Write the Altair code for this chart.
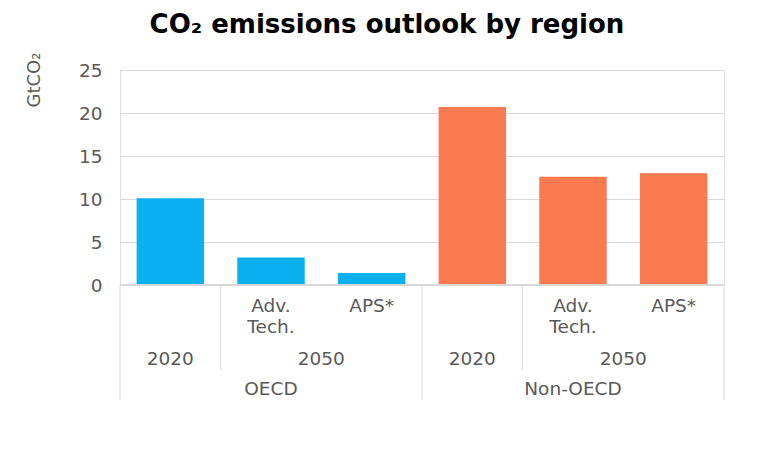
import altair as alt
import pandas as pd

regions = ["OECD", "OECD", "OECD", "Non-OECD", "Non-OECD", "Non-OECD"]
periods = ["2020", "2050", "2050", "2020", "2050", "2050"]
scenarios = ["", "Adv.\nTech.", "APS*", "", "Adv.\nTech.", "APS*"]
values = [10.1, 3.2, 1.4, 20.7, 12.6, 13.0]
colors = ["#0BB0F0", "#0BB0F0", "#0BB0F0", "#F97A50", "#F97A50", "#F97A50"]

TXT = "#595959"
FONT = "DejaVu Sans"
FS = 18.5

df = pd.DataFrame({"region": regions, "period": periods, "scenario": scenarios,
                   "value": values, "color": colors})
df["idx"] = range(len(df))
df["key"] = df["region"] + "|" + df["period"] + "|" + df["idx"].astype(str)
keys = list(df["key"])

# label tables derived from the category index
sub = df[df["scenario"] != ""].copy()
sub["pos"] = sub["idx"] + 0.5

per = df.groupby(["region", "period"], sort=False)["idx"].agg(["min", "max"]).reset_index()
per["pos"] = (per["min"] + per["max"] + 1) / 2

reg = df.groupby("region", sort=False)["idx"].agg(["min", "max"]).reset_index()
reg["pos"] = (reg["min"] + reg["max"] + 1) / 2

# separators
reg_b = sorted(set(list(reg["min"]) + list(reg["max"] + 1)))
per_b = sorted(set(per["min"]) - set(reg["min"]))
seps = pd.DataFrame({"b": reg_b + per_b,
                     "kind": ["region"] * len(reg_b) + ["period"] * len(per_b)})

n = len(df)
xq = alt.X("pos:Q", scale=alt.Scale(domain=[0, n], nice=False, zero=False), axis=None)

bars = alt.Chart(df).mark_bar().encode(
    x=alt.X("key:N", sort=keys, axis=None,
            scale=alt.Scale(paddingInner=0.33, paddingOuter=0.165)),
    y=alt.Y("value:Q", scale=alt.Scale(domain=[0, 25], nice=False),
            axis=alt.Axis(values=[0, 5, 10, 15, 20, 25], title="GtCO₂",
                          grid=True, gridColor="#D9D9D9", domain=False, ticks=False,
                          labelFont=FONT, labelFontSize=FS, labelColor=TXT, labelPadding=18,
                          titleFont=FONT, titleFontSize=18, titleColor=TXT,
                          titleFontWeight="normal", titleAngle=-90,
                          titleAlign="right", titleBaseline="alphabetic",
                          titleX=-81, titleY=-18)),
    color=alt.Color("color:N", scale=None),
)

baseline_rule = alt.Chart(df).mark_rule(color="#D9D9D9", strokeWidth=1).encode(
    x=alt.value(0), x2=alt.value(604), y=alt.value(215)
)

rules_reg = alt.Chart(seps[seps["kind"] == "region"]).mark_rule(
    color="#D9D9D9", strokeWidth=1).encode(
    x=alt.X("b:Q", scale=alt.Scale(domain=[0, n], nice=False, zero=False), axis=None),
    y=alt.value(215), y2=alt.value(330)
)
rules_per = alt.Chart(seps[seps["kind"] == "period"]).mark_rule(
    color="#D9D9D9", strokeWidth=1).encode(
    x=alt.X("b:Q", scale=alt.Scale(domain=[0, n], nice=False, zero=False), axis=None),
    y=alt.value(215), y2=alt.value(300)
)

txt_kw = dict(font=FONT, fontSize=FS, color=TXT, align="center", baseline="alphabetic")

sub_txt = alt.Chart(sub).mark_text(lineBreak="\n", lineHeight=21, **txt_kw).encode(
    x=xq, y=alt.value(242), text="scenario:N"
)
per_txt = alt.Chart(per).mark_text(**txt_kw).encode(
    x=xq, y=alt.value(295), text="period:N"
)
reg_txt = alt.Chart(reg).mark_text(**txt_kw).encode(
    x=xq, y=alt.value(325), text="region:N"
)

chart = alt.layer(
    bars, baseline_rule, rules_reg, rules_per, sub_txt, per_txt, reg_txt
).resolve_scale(x="independent").properties(
    width=604, height=215,
    autosize=alt.AutoSizeParams(type="none"),
    padding={"left": 112, "top": 62, "right": 32, "bottom": 161},
    title=alt.TitleParams("CO₂ emissions outlook by region", font=FONT, fontSize=26,
                          fontWeight="bold", color="#000000", anchor="middle",
                          dx=-35, offset=14),
).configure_view(stroke=None).configure(background="white")

chart.save("out.html", embed_options={"renderer": "svg", "actions": False})
